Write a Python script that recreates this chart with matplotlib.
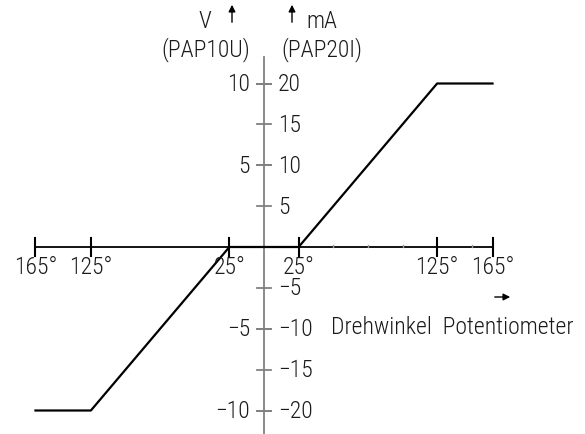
import matplotlib
matplotlib.use('Agg')
import matplotlib.pyplot as plt

# data:
# -----------------------------
angle = [-165, -125, -25, 25, 125, 165]      # Drehwinkel in degrees
voltage = [-10, -10, 0, 0, 10, 10]           # PAP10U output in V
x_ticks = [-165, -125, -25, 25, 125, 165]
x_labels = ['165°', '125°', '25°', '25°', '125°', '165°']
x_minor = [50, 75, 100, 150]
v_ticks = [10, 5, -5, -10]
ma_ticks = [20, 15, 10, 5, -5, -10, -15, -20]

plt.rcParams['font.family'] = ['Roboto Condensed', 'DejaVu Sans']
plt.rcParams['font.weight'] = 'light'
fs = 17
tc = '#1a1a1a'

fig = plt.figure(figsize=(5.85, 4.35), dpi=100)
ax = fig.add_axes([0, 0, 1, 1])
x0, x1 = -264 / 1.385, (585 - 264) / 1.385
y0, y1 = -(435 - 248) / 16.35, 248 / 16.35
ax.set_xlim(x0, x1)
ax.set_ylim(y0, y1)
ax.axis('off')

# scale helpers (pixels -> data units)
px_x = (x1 - x0) / 585
px_y = (y1 - y0) / 435

# vertical axis (grey) with ticks and two label columns
ax.plot([0, 0], [y0, 190 * px_y], color='#808080', lw=1.3)
for v in v_ticks:
    ax.plot([-7 * px_x, 7 * px_x], [v, v], color='#808080', lw=1.3)
    ax.text(-14 * px_x, v, str(v).replace('-', '−'), ha='right', va='center',
            fontsize=fs, color=tc)
for m in ma_ticks:
    ax.plot([-7 * px_x, 7 * px_x], [m / 2, m / 2], color='#808080', lw=1.3)
    ax.text(14 * px_x, m / 2, str(m).replace('-', '−'), ha='left', va='center',
            fontsize=fs, color=tc)

# horizontal axis (black)
ax.plot([x_ticks[0], x_ticks[-1]], [0, 0], color='black', lw=1.3)
for xt, lab in zip(x_ticks, x_labels):
    ax.plot([xt, xt], [-9 * px_y, 9 * px_y], color='black', lw=1.5)
    ax.text(xt, -20 * px_y, lab, ha='center', va='center', fontsize=fs,
            color=tc)
for xm in x_minor:
    ax.plot([xm, xm], [0, 2 * px_y], color='#999999', lw=1)

# characteristic
ax.plot(angle, voltage, color='black', lw=1.6)

# axis titles and arrows
ax.text(-59 * px_x, 226 * px_y, 'V', ha='center', va='center', fontsize=fs, color=tc)
ax.text(-58 * px_x, 198 * px_y, '(PAP10U)', ha='center', va='center', fontsize=fs, color=tc)
ax.text(58 * px_x, 226 * px_y, 'mA', ha='center', va='center', fontsize=fs, color=tc)
ax.text(58 * px_x, 198 * px_y, '(PAP20I)', ha='center', va='center', fontsize=fs, color=tc)
ax.annotate('', xy=(-32 * px_x, 245 * px_y), xytext=(-32 * px_x, 222 * px_y),
            arrowprops=dict(arrowstyle='-|>', color='black', lw=1,
                            mutation_scale=10))
ax.annotate('', xy=(28 * px_x, 245 * px_y), xytext=(28 * px_x, 222 * px_y),
            arrowprops=dict(arrowstyle='-|>', color='black', lw=1,
                            mutation_scale=10))
ax.annotate('', xy=(249 * px_x, -50 * px_y), xytext=(228 * px_x, -50 * px_y),
            arrowprops=dict(arrowstyle='-|>', color='black', lw=1,
                            mutation_scale=10))
ax.text(67 * px_x, -80 * px_y, 'Drehwinkel  Potentiometer', ha='left',
        va='center', fontsize=fs, color=tc)

fig.savefig('out.png', dpi=100)
